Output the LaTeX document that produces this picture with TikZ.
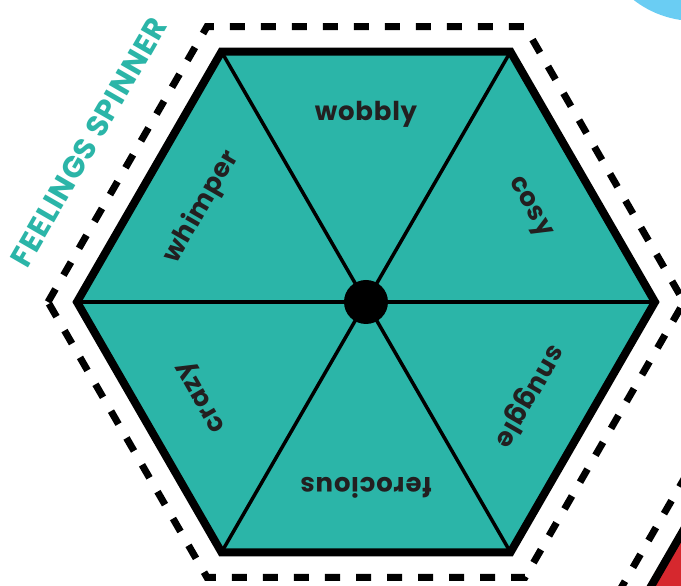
\documentclass[tikz,border=0pt]{standalone}
\usepackage{fontspec}
\usepackage{tikz}
\usetikzlibrary{calc,positioning}
\newfontfamily\spinfont{Poppins}[LetterSpace=3]
\definecolor{spinteal}{HTML}{2BB5A8}
\definecolor{labeldark}{HTML}{231F20}
\definecolor{spinred}{HTML}{D6282E}
\definecolor{spinblue}{HTML}{6ACDF3}

\begin{document}
\begin{tikzpicture}[
    x=1pt, y=1pt,
    outline/.style={draw=black, line width=8pt, line join=miter},
    cutline/.style={draw=black, line width=7pt, dash pattern=on 15pt off 16pt},
    spoke/.style={draw=black, line width=3.5pt},
    word/.style={font=\spinfont\bfseries\fontsize{26}{28}\selectfont, text=labeldark, inner sep=0pt},
    title/.style={font=\spinfont\bfseries\fontsize{30}{32}\selectfont, text=spinteal, inner sep=0pt},
    hub/.style={fill=black, circle, minimum size=44pt, inner sep=0pt}
]
    \useasboundingbox (-366,-284) rectangle (315,302);
    \clip (-366,-284) rectangle (315,302);

    % neighbouring pieces at the page edge
    \fill [spinblue] (329,381) circle (100);

    \coordinate (rc) at (565,-300);
    \fill [spinred] ($(rc)+(0:289)$) -- ($(rc)+(60:289)$) -- ($(rc)+(120:289)$) -- ($(rc)+(180:289)$) -- ($(rc)+(240:289)$) -- ($(rc)+(300:289)$) -- cycle;
    \draw [outline] ($(rc)+(0:289)$) -- ($(rc)+(60:289)$) -- ($(rc)+(120:289)$) -- ($(rc)+(180:289)$) -- ($(rc)+(240:289)$) -- ($(rc)+(300:289)$) -- cycle;
    \draw [cutline] ($(rc)+(0:318)$) -- ($(rc)+(60:318)$) -- ($(rc)+(120:318)$) -- ($(rc)+(180:318)$) -- ($(rc)+(240:318)$) -- ($(rc)+(300:318)$) -- cycle;

    % spinner
    \coordinate (O) at (0,0);
    \coordinate (v0) at (0:289);
    \coordinate (v1) at (60:289);
    \coordinate (v2) at (120:289);
    \coordinate (v3) at (180:289);
    \coordinate (v4) at (240:289);
    \coordinate (v5) at (300:289);

    \coordinate (d0) at (0:318);
    \coordinate (d1) at (60:318);
    \coordinate (d2) at (120:318);
    \coordinate (d3) at (180:318);
    \coordinate (d4) at (240:318);
    \coordinate (d5) at (300:318);

    \draw [cutline] (d3) -- (d2) -- (d1) -- (d0) -- (d5) -- (d4) -- cycle;

    \fill [spinteal] (v0) -- (v1) -- (v2) -- (v3) -- (v4) -- (v5) -- cycle;

    \draw [spoke] (v0) -- (v3);
    \draw [spoke] (v1) -- (v4);
    \draw [spoke] (v2) -- (v5);

    \draw [outline] (v0) -- (v1) -- (v2) -- (v3) -- (v4) -- (v5) -- cycle;

    \node [hub] (hub) at (O) {};

    \node [word] (wobbly) at (90:188) {wobbly};
    \node [word, rotate=-60] (cosy) at (30:188) {cosy};
    \node [word, rotate=-120] (snuggle) at (-30:188) {snuggle};
    \node [word, rotate=180] (ferocious) at (-90:186) {ferocious};
    \node [word, rotate=120] (crazy) at (210:188) {crazy};
    \node [word, rotate=60] (whimper) at (150:190) {whimper};

    \node [title, rotate=60] (title) at (150:320) {FEELINGS SPINNER};

\end{tikzpicture}
\end{document}
